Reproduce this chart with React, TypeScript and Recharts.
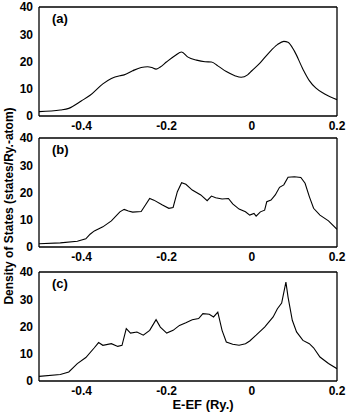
import React from "react";
import { LineChart, Line, XAxis, YAxis } from "recharts";

const energyA = [-0.5, -0.45, -0.43, -0.4, -0.38, -0.35, -0.33, -0.31, -0.3, -0.28, -0.26, -0.245, -0.235, -0.225, -0.215, -0.2, -0.18, -0.165, -0.15, -0.13, -0.11, -0.095, -0.08, -0.06, -0.04, -0.025, -0.01, 0, 0.02, 0.04, 0.06, 0.075, 0.085, 0.1, 0.12, 0.135, 0.15, 0.17, 0.2];
const dosA = [1.6, 2.2, 2.8, 5.6, 7.6, 11.8, 13.8, 14.8, 15.1, 16.6, 17.8, 18.1, 17.8, 17.2, 18.0, 19.9, 22.2, 23.5, 21.6, 20.5, 19.9, 19.8, 18.4, 16.3, 14.8, 14.2, 15.1, 16.6, 19.6, 23.2, 26.2, 27.4, 27.1, 23.8, 17.2, 13.0, 10.3, 8.2, 6.0];

const energyB = [-0.5, -0.45, -0.41, -0.39, -0.38, -0.37, -0.35, -0.33, -0.31, -0.3, -0.29, -0.28, -0.26, -0.25, -0.24, -0.23, -0.21, -0.195, -0.185, -0.175, -0.165, -0.155, -0.14, -0.12, -0.105, -0.095, -0.085, -0.07, -0.055, -0.045, -0.03, -0.015, -0.005, 0.005, 0.01, 0.02, 0.03, 0.035, 0.045, 0.055, 0.065, 0.075, 0.085, 0.1, 0.115, 0.125, 0.135, 0.145, 0.16, 0.18, 0.2];
const dosB = [1.2, 1.5, 2.1, 3.0, 4.7, 5.9, 7.4, 9.6, 12.9, 13.8, 13.2, 12.8, 13.0, 15.4, 17.8, 17.2, 15.4, 14.2, 14.5, 20.3, 23.6, 23.0, 20.9, 19.1, 17.0, 18.7, 18.1, 17.6, 17.8, 15.8, 13.9, 12.9, 11.7, 12.3, 11.3, 12.9, 13.5, 16.6, 17.2, 19.1, 21.9, 22.8, 25.6, 25.8, 25.5, 23.4, 18.5, 14.2, 11.7, 9.6, 6.5];

const energyC = [-0.5, -0.45, -0.43, -0.41, -0.39, -0.37, -0.36, -0.35, -0.33, -0.315, -0.305, -0.295, -0.285, -0.27, -0.255, -0.24, -0.225, -0.215, -0.2, -0.185, -0.17, -0.155, -0.14, -0.125, -0.115, -0.1, -0.09, -0.08, -0.07, -0.06, -0.045, -0.03, -0.015, -0.005, 0.01, 0.03, 0.05, 0.06, 0.07, 0.08, 0.085, 0.095, 0.105, 0.12, 0.135, 0.145, 0.16, 0.18, 0.2];
const dosC = [1.7, 2.4, 3.3, 6.4, 8.6, 12.2, 14.1, 13.1, 13.7, 12.7, 13.1, 19.2, 17.6, 18.0, 16.8, 18.6, 22.5, 19.8, 17.6, 18.6, 20.4, 21.4, 22.5, 22.9, 24.7, 24.5, 23.5, 25.3, 18.6, 14.3, 13.5, 13.1, 13.7, 14.7, 16.8, 19.8, 23.5, 26.5, 28.6, 36.3, 30.8, 22.3, 18.0, 14.9, 13.7, 12.2, 8.8, 6.4, 4.5];

const xLabelTicks = [-0.4, -0.2, 0, 0.2];
const xAllTicks = [-0.4, -0.3, -0.2, -0.1, 0, 0.1];
const yLabelTicks = [0, 10, 20, 30, 40];
const yMajorTicks = [10, 20, 30];
const yMinorTicks = [5, 15, 25, 35];
const panelLabels = ["(a)", "(b)", "(c)"];

const FONT = "'Liberation Sans', Arial, Helvetica, sans-serif";

function toRows(xs: number[], ys: number[]) {
  return xs.map((x, i) => ({ e: x, d: ys[i] }));
}

type PanelProps = {
  rows: { e: number; d: number }[];
  top: number;
  plotHeight: number;
  label: string;
  curve: "monotone" | "linear";
  mTop: number;
};

const fmtX = (v: number) => (v === 0 ? "0" : String(v));

function Panel({ rows, top, plotHeight, label, curve, mTop }: PanelProps) {
  const xh = 16;
  const h = plotHeight + mTop + xh;
  const tickStyle = { fontFamily: FONT, fontWeight: 700, fontSize: 12, fill: "#000" };
  const tl = { stroke: "#000", strokeWidth: 1 };
  const al = { stroke: "#000", strokeWidth: 1.3 };
  return (
    <div style={{ position: "absolute", left: 0, top: top - mTop, width: 346, height: h }}>
      <LineChart width={346} height={h} data={rows} margin={{ top: mTop, right: 9, bottom: 0, left: 0 }}>
        <XAxis xAxisId="main" dataKey="e" type="number" domain={[-0.5, 0.2]} allowDataOverflow ticks={xLabelTicks} tickFormatter={fmtX} tickLine={false} tickSize={4} tickMargin={1} height={xh} axisLine={al} tick={tickStyle} interval={0} />
        <XAxis xAxisId="bm" dataKey="e" type="number" domain={[-0.5, 0.2]} allowDataOverflow ticks={xAllTicks} mirror orientation="bottom" tick={false} tickSize={7} tickLine={tl} axisLine={false} height={1} interval={0} />
        <XAxis xAxisId="tm" dataKey="e" type="number" domain={[-0.5, 0.2]} allowDataOverflow ticks={xAllTicks} mirror orientation="top" tick={false} tickSize={7} tickLine={tl} axisLine={al} height={1} interval={0} />
        <YAxis yAxisId="main" type="number" domain={[0, 40]} allowDataOverflow ticks={yLabelTicks} tickLine={false} tickSize={4} tickMargin={2} width={39} axisLine={al} tick={tickStyle} interval={0} />
        <YAxis yAxisId="lmaj" type="number" domain={[0, 40]} allowDataOverflow ticks={yMajorTicks} mirror orientation="left" tick={false} tickSize={7} tickLine={tl} axisLine={false} width={1} interval={0} />
        <YAxis yAxisId="lmin" type="number" domain={[0, 40]} allowDataOverflow ticks={yMinorTicks} mirror orientation="left" tick={false} tickSize={4} tickLine={tl} axisLine={false} width={1} interval={0} />
        <YAxis yAxisId="rmaj" type="number" domain={[0, 40]} allowDataOverflow ticks={yMajorTicks} mirror orientation="right" tick={false} tickSize={7} tickLine={tl} axisLine={al} width={1} interval={0} />
        <YAxis yAxisId="rmin" type="number" domain={[0, 40]} allowDataOverflow ticks={yMinorTicks} mirror orientation="right" tick={false} tickSize={4} tickLine={tl} axisLine={false} width={1} interval={0} />
        <Line xAxisId="main" yAxisId="main" dataKey="d" type={curve} stroke="#000" strokeWidth={1.1} dot={false} isAnimationActive={false} />
      </LineChart>
      <div style={{ position: "absolute", left: 52, top: mTop + 4, fontFamily: FONT, fontWeight: 700, fontSize: 13, color: "#000" }}>{label}</div>
    </div>
  );
}

export default function App() {
  return (
    <div style={{ position: "absolute", left: 0, top: 0, width: 346, height: 415, background: "#fff", overflow: "hidden" }}>
      <Panel rows={toRows(energyA, dosA)} top={7} plotHeight={109} label={panelLabels[0]} curve="monotone" mTop={7} />
      <Panel rows={toRows(energyB, dosB)} top={138} plotHeight={109} label={panelLabels[1]} curve="linear" mTop={8} />
      <Panel rows={toRows(energyC, dosC)} top={272} plotHeight={109} label={panelLabels[2]} curve="linear" mTop={8} />
      <div style={{ position: "absolute", left: 0, top: 397, width: 346, textAlign: "center", paddingLeft: 60, boxSizing: "border-box", fontFamily: FONT, fontWeight: 700, fontSize: 13, color: "#000", lineHeight: "16px" }}>E-EF (Ry.)</div>
      <div style={{ position: "absolute", left: 9, top: 206, transform: "translate(-50%, -50%) rotate(-90deg)", whiteSpace: "nowrap", fontFamily: FONT, fontWeight: 700, fontSize: 12, color: "#000", lineHeight: "14px" }}>Density of States (states/Ry.-atom)</div>
    </div>
  );
}
